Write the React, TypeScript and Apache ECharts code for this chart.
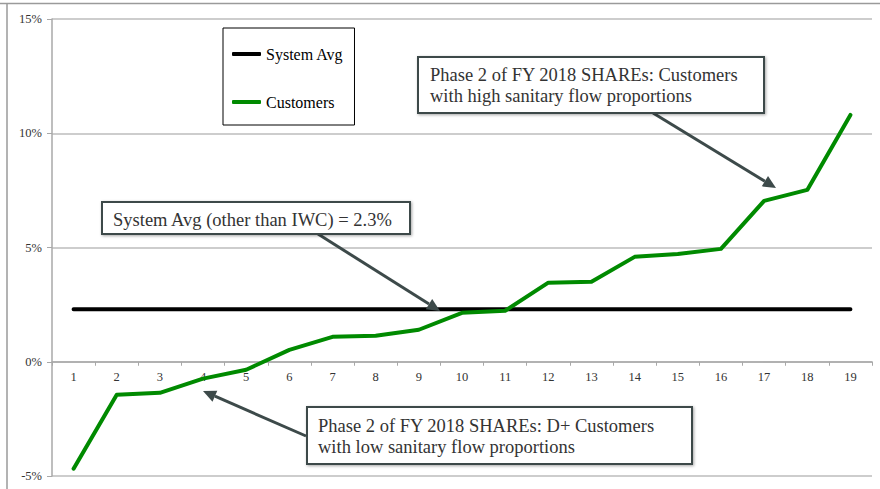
import React, { useEffect, useRef } from "react";
import * as echarts from "echarts";

const categories = ["1","2","3","4","5","6","7","8","9","10","11","12","13","14","15","16","17","18","19"];
const customers = [-4.68, -1.44, -1.36, -0.74, -0.35, 0.52, 1.09, 1.14, 1.4, 2.14, 2.23, 3.46, 3.5, 4.59, 4.72, 4.94, 7.04, 7.52, 10.8];
const systemAvg = [2.3, 2.3, 2.3, 2.3, 2.3, 2.3, 2.3, 2.3, 2.3, 2.3, 2.3, 2.3, 2.3, 2.3, 2.3, 2.3, 2.3, 2.3, 2.3];
const yTicks = [-5, 0, 5, 10, 15];
const Y_MIN = -5;
const Y_MAX = 15;

const SERIF = "'Liberation Serif', 'DejaVu Serif', serif";
const BOX = "#3d4a4a";
const GRID_H = 457;

function arrow(x1: number, y1: number, x2: number, y2: number) {
  const ang = Math.atan2(y2 - y1, x2 - x1);
  const len = 13, half = 6;
  const bx = x2 - len * Math.cos(ang), by = y2 - len * Math.sin(ang);
  const px = -Math.sin(ang) * half, py = Math.cos(ang) * half;
  return [
    { type: "line", shape: { x1, y1, x2: bx, y2: by }, style: { stroke: BOX, lineWidth: 3 }, z: 100 },
    { type: "polygon", shape: { points: [[x2, y2], [bx + px, by + py], [bx - px, by - py]] }, style: { fill: BOX }, z: 100 },
  ];
}

function box(x: number, y: number, w: number, h: number, lines: string[], tx: number, ty: number) {
  return [
    {
      type: "rect",
      shape: { x, y, width: w, height: h },
      style: { fill: "#fff", stroke: BOX, lineWidth: 2, shadowBlur: 3, shadowColor: "rgba(0,0,0,0.35)", shadowOffsetX: 1, shadowOffsetY: 1 },
      z: 101,
    },
    {
      type: "text",
      x: tx,
      y: ty,
      style: { text: lines.join("\n"), font: `18.5px ${SERIF}`, fill: "#333", lineHeight: 21, textVerticalAlign: "top" },
      z: 102,
    },
  ];
}

export default function App() {
  const ref = useRef<HTMLDivElement>(null);
  useEffect(() => {
    if (!ref.current) return;
    const chart = echarts.init(ref.current, undefined, { renderer: "svg" });
    chart.setOption({
      animation: false,
      backgroundColor: "#fff",
      grid: { left: 52, top: 19, width: 820, height: GRID_H, containLabel: false, outerBoundsMode: "none" },
      legend: {
        orient: "vertical",
        left: 223,
        top: 28,
        padding: [18, 11, 15, 9],
        itemGap: 32,
        itemWidth: 29,
        itemHeight: 4,
        itemTextGap: 0,
        icon: "roundRect",
        borderColor: "#000",
        borderWidth: 1,
        backgroundColor: "#fff",
        textStyle: { fontFamily: SERIF, fontSize: 16, color: "#000" },
        data: ["System Avg", "Customers"],
      },
      xAxis: {
        type: "category",
        data: categories,
        boundaryGap: true,
        position: "bottom",
        offset: -GRID_H * (0 - Y_MIN) / (Y_MAX - Y_MIN),
        axisLine: { onZero: false, lineStyle: { color: "#a8a8a8", width: 1.5 } },
        axisTick: { show: true, length: 4, lineStyle: { color: "#a8a8a8" } },
        axisLabel: { fontFamily: SERIF, fontSize: 12.5, color: "#333", margin: 9 },
        splitLine: { show: false },
      },
      yAxis: {
        type: "value",
        min: Y_MIN,
        max: Y_MAX,
        interval: 5,
        axisLine: { show: true, lineStyle: { color: "#a8a8a8", width: 1.5 } },
        axisTick: { show: true, length: 5, lineStyle: { color: "#a8a8a8" } },
        axisLabel: {
          fontFamily: SERIF,
          fontSize: 12.5,
          color: "#333",
          margin: 10,
          formatter: (v: number) => (yTicks.includes(v) ? `${v}%` : ""),
        },
        splitLine: { show: true, lineStyle: { color: "#bdbdbd", width: 1.5 } },
      },
      series: [
        {
          name: "System Avg",
          type: "line",
          data: systemAvg,
          symbol: "none",
          lineStyle: { color: "#000", width: 4, cap: "round" },
          itemStyle: { color: "#000" },
          z: 3,
        },
        {
          name: "Customers",
          type: "line",
          data: customers,
          symbol: "none",
          lineStyle: { color: "#008a00", width: 4, cap: "round", join: "round" },
          itemStyle: { color: "#008a00" },
          z: 4,
        },
      ],
      graphic: [
        { type: "line", shape: { x1: 0, y1: 3.5, x2: 880, y2: 3.5 }, style: { stroke: "#9a9a9a", lineWidth: 1.5 }, z: 50 },
        { type: "line", shape: { x1: 7, y1: 3.5, x2: 7, y2: 489 }, style: { stroke: "#9a9a9a", lineWidth: 1.5 }, z: 50 },
        ...arrow(653, 113, 776, 188),
        ...box(418, 57, 346, 56, ["Phase 2 of FY 2018 SHAREs: Customers", "with high sanitary flow proportions"], 430, 64),
        ...arrow(318, 234, 440, 311),
        ...box(102, 202, 308, 32, ["System Avg (other than IWC) = 2.3%"], 113, 209),
        ...arrow(306, 436, 203, 391),
        ...box(307, 407, 385, 57, ["Phase 2 of FY 2018 SHAREs: D+ Customers", "with low sanitary flow proportions"], 318, 415),
      ],
    });
    return () => chart.dispose();
  }, []);
  return <div ref={ref} style={{ position: "absolute", left: 0, top: 0, width: 880, height: 489 }} />;
}
